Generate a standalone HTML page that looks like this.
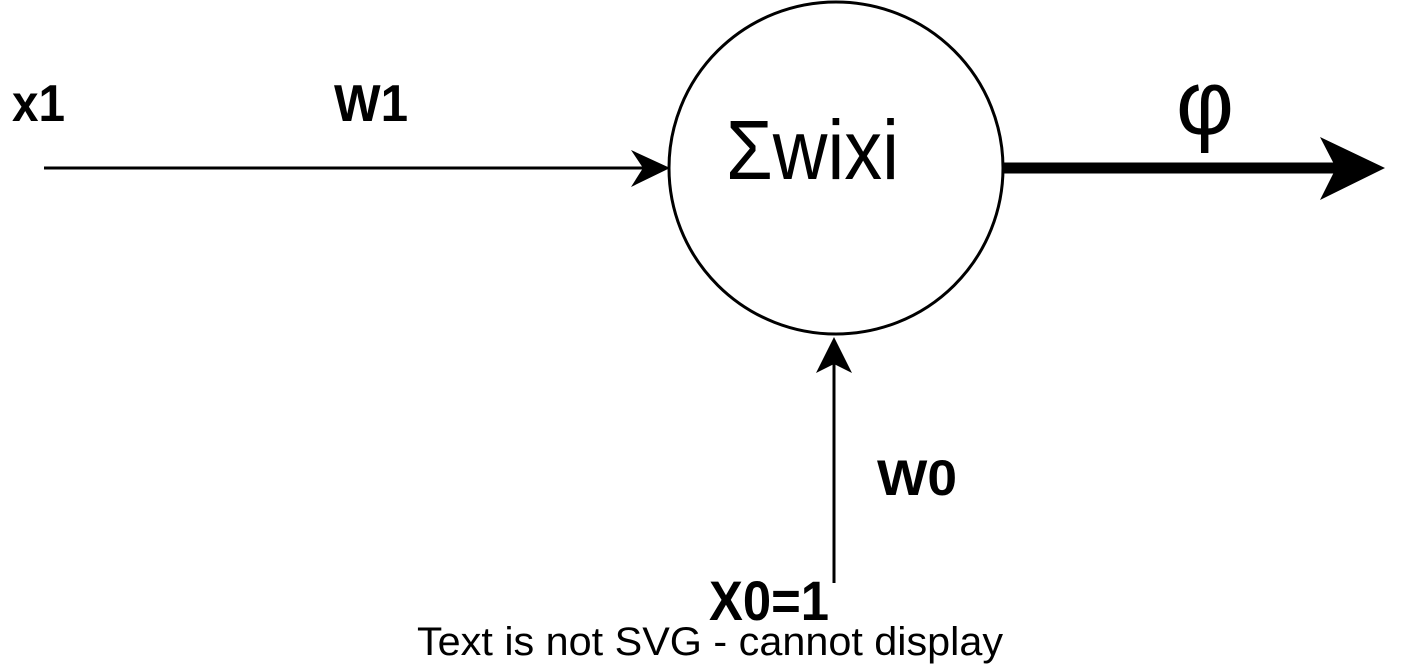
<!DOCTYPE html>
<html><head><style>html,body{margin:0;padding:0;background:#fff;}svg{display:block}</style></head>
<body>
<svg width="1417" height="671" viewBox="0 0 1417 671" xmlns="http://www.w3.org/2000/svg">
<ellipse cx="836" cy="168" rx="167" ry="166" fill="#fff" stroke="#000" stroke-width="3"/>
<line x1="44" y1="168" x2="645" y2="168" stroke="#000" stroke-width="3"/>
<polygon points="670,168 631,187 643,168 631,150" fill="#000"/>
<line x1="1004" y1="168" x2="1340" y2="168" stroke="#000" stroke-width="11"/>
<polygon points="1385,168 1320,200 1336,168 1320,137" fill="#000"/>
<line x1="834" y1="583" x2="834" y2="360" stroke="#000" stroke-width="3"/>
<polygon points="834,337 852,373 834,364 816,373" fill="#000"/>
<g font-family="Liberation Sans, Arial, sans-serif" fill="#000">
<text x="12" y="121" font-size="52" font-weight="bold" textLength="53" lengthAdjust="spacingAndGlyphs">x1</text>
<text x="334" y="121" font-size="52" font-weight="bold" textLength="74" lengthAdjust="spacingAndGlyphs">W1</text>
<text x="726" y="179" font-size="84" textLength="173" lengthAdjust="spacingAndGlyphs">Σwixi</text>
<text x="1176" y="134" font-size="92" textLength="58" lengthAdjust="spacingAndGlyphs">φ</text>
<text x="877" y="495" font-size="50" font-weight="bold" textLength="80" lengthAdjust="spacingAndGlyphs">W0</text>
<text x="709" y="620" font-size="56" font-weight="bold" textLength="120" lengthAdjust="spacingAndGlyphs">X0=1</text>
<text x="417" y="655" font-size="40" textLength="586" lengthAdjust="spacingAndGlyphs">Text is not SVG - cannot display</text>
</g>
</svg>
</body></html>
